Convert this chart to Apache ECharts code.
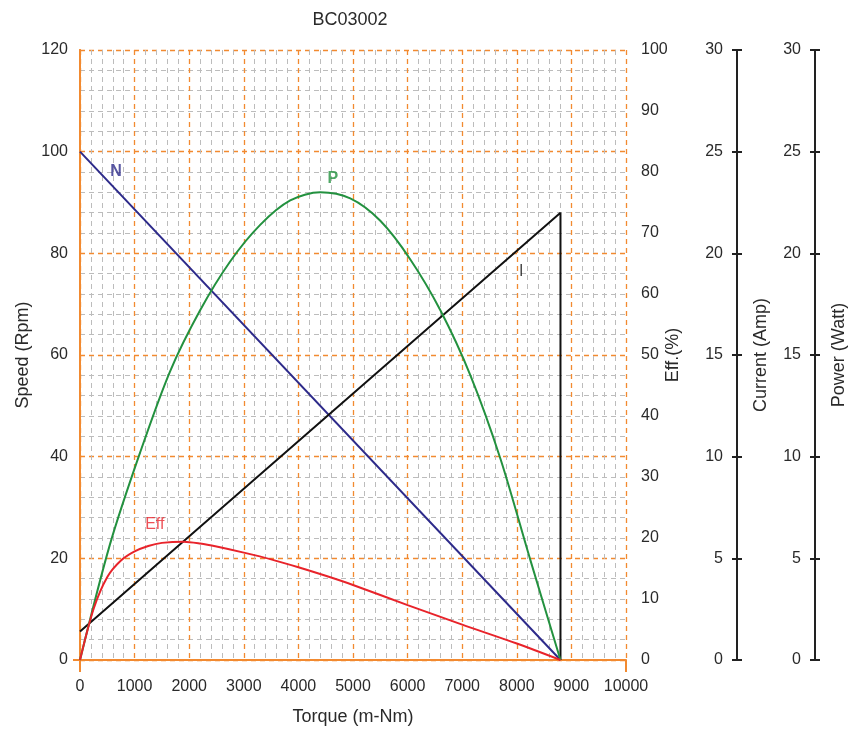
<!DOCTYPE html>
<html>
<head>
<meta charset="utf-8">
<script src="https://cdn.jsdelivr.net/npm/echarts@6/dist/echarts.min.js"></script>
<style>html,body{margin:0;padding:0;background:#fff;}#c{width:848px;height:731px;}</style>
</head>
<body>
<div id="c"></div>
<script>
const title = 'BC03002';
// Torque (m-Nm) vs values
const speedData = [[0, 100], [8800, 0]];
const currentData = [[0, 1.4], [8800, 22.0], [8800, 0]];
const powerData = [[0, 0], [550, 5.7], [1100, 10.2], [1650, 14.2], [2200, 17.2], [2750, 19.6], [3300, 21.4], [3850, 22.6], [4400, 23.0], [4950, 22.7], [5500, 21.6], [6050, 19.7], [6600, 17.2], [7150, 14.0], [7700, 9.9], [8250, 4.9], [8800, 0]];
const effData = [[0, 0], [250, 8.4], [500, 13.6], [750, 16.3], [1000, 17.8], [1250, 18.7], [1500, 19.2], [1900, 19.4], [2200, 19.1], [2500, 18.6], [3000, 17.6], [3500, 16.5], [4000, 15.2], [4500, 13.8], [5000, 12.3], [6000, 9.0], [7000, 5.8], [8000, 2.7], [8800, 0]];
// curve name labels: [torque, value]
const labelN = [660, 96.0];
const labelP = [4630, 23.7];
const labelI = [8080, 19.1];
const labelEff = [1370, 22.2];

const ORANGE = '#f28a30';
const GRAY = '#bcbcbc';
const TXT = '#2a2a2a';
const FONT = 'Liberation Sans, Arial, sans-serif';
const FS = 16;
const NFS = 18;

const chart = echarts.init(document.getElementById('c'));
const lab = (c, s) => ({ color: c, fontFamily: FONT, fontSize: s || FS });
chart.setOption({
  animation: false,
  title: { text: title, left: 345, top: 6, textAlign: 'center', textStyle: { color: TXT, fontFamily: FONT, fontSize: 18, fontWeight: 'normal' } },
  grid: { left: 80, right: 222, top: 50, bottom: 71, containLabel: false, outerBoundsMode: 'none' },
  xAxis: [{
    type: 'value', min: 0, max: 10000, interval: 1000,
    name: 'Torque (m-Nm)', nameLocation: 'middle', nameGap: 48, nameMoveOverlap: false,
    nameTextStyle: lab(TXT, NFS),
    axisLine: { show: true, lineStyle: { color: ORANGE, width: 2 } },
    axisTick: { show: false },
    axisLabel: Object.assign({ margin: 19, formatter: (v) => String(v) }, lab(TXT)),
    splitLine: { show: true, lineStyle: { color: ORANGE, type: [5, 4], width: 1.3 } },
    minorTick: { show: false, splitNumber: 5 },
    minorSplitLine: { show: true, lineStyle: { color: GRAY, type: [5, 4], width: 1 } }
  }, {
    type: 'value', min: 0, max: 10000, interval: 10000, position: 'bottom',
    axisLine: { show: false }, axisLabel: { show: false }, splitLine: { show: false },
    axisTick: { show: true, length: 12, lineStyle: { color: ORANGE, width: 2 } }
  }],
  yAxis: [{
    type: 'value', position: 'left', min: 0, max: 120, interval: 20,
    name: 'Speed (Rpm)', nameLocation: 'middle', nameGap: 48, nameRotate: 90, nameMoveOverlap: false,
    nameTextStyle: lab(TXT, NFS),
    axisLine: { show: true, lineStyle: { color: ORANGE, width: 2 } },
    axisTick: { show: false },
    axisLabel: Object.assign({ margin: 12 }, lab(TXT)),
    splitLine: { show: true, lineStyle: { color: ORANGE, type: [5, 4], width: 1.3 } },
    minorTick: { show: false, splitNumber: 5 },
    minorSplitLine: { show: true, lineStyle: { color: GRAY, type: [5, 4], width: 1 } }
  }, {
    type: 'value', position: 'right', min: 0, max: 100, interval: 10,
    name: 'Eff.(%)', nameLocation: 'middle', nameGap: 38, nameRotate: 90, nameMoveOverlap: false,
    nameTextStyle: lab(TXT, NFS),
    axisLine: { show: true, lineStyle: { color: ORANGE, width: 2 } },
    axisTick: { show: true, customValues: [0], length: 6, lineStyle: { color: ORANGE, width: 2 } },
    axisLabel: Object.assign({ margin: 15 }, lab(TXT)),
    splitLine: { show: false }
  }, {
    type: 'value', position: 'right', offset: 111, min: 0, max: 30, interval: 5,
    name: 'Current (Amp)', nameLocation: 'middle', nameGap: 15, nameRotate: 90, nameMoveOverlap: false,
    nameTextStyle: lab(TXT, NFS),
    axisLine: { show: true, lineStyle: { color: '#222', width: 2 } },
    axisTick: { show: true, length: 5, lineStyle: { color: '#222', width: 2 } },
    axisLabel: Object.assign({ inside: true, margin: 14 }, lab(TXT)),
    splitLine: { show: false }
  }, {
    type: 'value', position: 'right', offset: 189, min: 0, max: 30, interval: 5,
    name: 'Power (Watt)', nameLocation: 'middle', nameGap: 15, nameRotate: 90, nameMoveOverlap: false,
    nameTextStyle: lab(TXT, NFS),
    axisLine: { show: true, lineStyle: { color: '#222', width: 2 } },
    axisTick: { show: true, length: 5, lineStyle: { color: '#222', width: 2 } },
    axisLabel: Object.assign({ inside: true, margin: 14 }, lab(TXT)),
    splitLine: { show: false }
  }, {
    type: 'value', position: 'right', offset: 111, min: 0, max: 30, interval: 5,
    axisLine: { show: false }, axisLabel: { show: false }, splitLine: { show: false },
    axisTick: { show: true, inside: true, length: 5, lineStyle: { color: '#222', width: 2 } }
  }, {
    type: 'value', position: 'right', offset: 189, min: 0, max: 30, interval: 5,
    axisLine: { show: false }, axisLabel: { show: false }, splitLine: { show: false },
    axisTick: { show: true, inside: true, length: 5, lineStyle: { color: '#222', width: 2 } }
  }, {
    type: 'value', position: 'left', min: 0, max: 120, interval: 20,
    axisLine: { show: false }, axisLabel: { show: false }, splitLine: { show: false },
    axisTick: { show: true, customValues: [0], length: 7, lineStyle: { color: ORANGE, width: 2 } }
  }],
  series: [
    { name: 'N', type: 'line', yAxisIndex: 0, data: speedData, symbol: 'none', lineStyle: { color: '#2d2a8a', width: 2 }, z: 5 },
    { name: 'I', type: 'line', yAxisIndex: 2, data: currentData, symbol: 'none', lineStyle: { color: '#111', width: 2 }, z: 5 },
    { name: 'P', type: 'line', yAxisIndex: 3, data: powerData, symbol: 'none', smooth: 0.3, lineStyle: { color: '#23913f', width: 2 }, z: 5 },
    { name: 'Eff', type: 'line', yAxisIndex: 1, data: effData, symbol: 'none', smooth: 0.3, lineStyle: { color: '#e8232a', width: 2 }, z: 5 },
    { type: 'scatter', yAxisIndex: 0, symbolSize: 0, data: [labelN], label: { show: true, position: 'inside', formatter: 'N', color: '#2d2a8a', fontFamily: FONT, fontSize: 16, fontWeight: 'bold' }, z: 6 },
    { type: 'scatter', yAxisIndex: 3, symbolSize: 0, data: [labelP], label: { show: true, position: 'inside', formatter: 'P', color: '#23913f', fontFamily: FONT, fontSize: 16, fontWeight: 'bold' }, z: 6 },
    { type: 'scatter', yAxisIndex: 2, symbolSize: 0, data: [labelI], label: { show: true, position: 'inside', formatter: 'I', color: '#111', fontFamily: FONT, fontSize: 16 }, z: 6 },
    { type: 'scatter', yAxisIndex: 1, symbolSize: 0, data: [labelEff], label: { show: true, position: 'inside', formatter: 'Eff', color: '#e8232a', fontFamily: FONT, fontSize: 16 }, z: 6 }
  ]
});
</script>
</body>
</html>
